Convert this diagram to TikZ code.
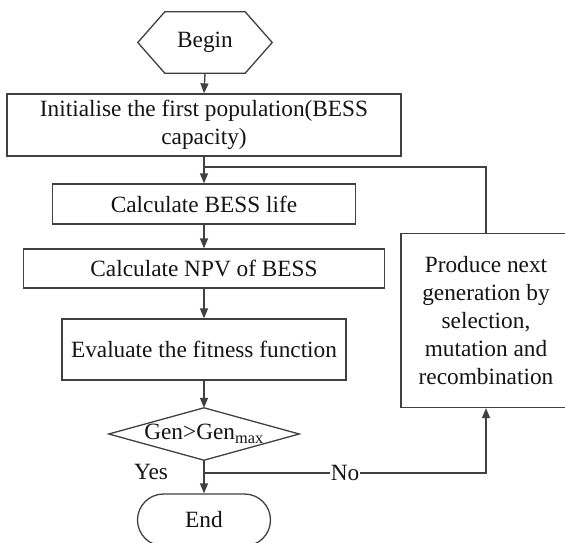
\documentclass[tikz,border=0pt]{standalone}
\usepackage{fontspec}
\setmainfont{Liberation Serif}
\usetikzlibrary{arrows.meta,shapes.misc}
\begin{document}
\begin{tikzpicture}[x=1pt,y=-1pt,
  line/.style={draw=black!75,line width=1.3pt},
  arr/.style={line,-{Triangle[length=10pt,width=8pt]}},
  box/.style={line,rectangle,inner sep=0pt,align=center,font=\fontsize{23.3}{28}\selectfont,text=black!92},
  plain/.style={rectangle,inner sep=0pt,align=center,font=\fontsize{23.3}{28}\selectfont,text=black!92},
  lbl/.style={inner sep=1pt,font=\fontsize{23.3}{28}\selectfont,text=black!92}]
\clip (0,0) rectangle (565,543);
\fill[white] (0,0) rectangle (565,543);
% nodes
\node[plain,minimum width=134pt,minimum height=61pt] (begin) at (205,42.5) {Begin};
\node[box,minimum width=394pt,minimum height=62pt] (init) at (204,125) {Initialise the first population(BESS\\capacity)};
\node[box,minimum width=303pt,minimum height=40pt] (life) at (204,204) {Calculate BESS life};
\node[box,minimum width=361pt,minimum height=39pt] (npv) at (204,268.5) {Calculate NPV of BESS};
\node[box,minimum width=284pt,minimum height=61pt] (eval) at (204,349.5) {Evaluate the fitness function};
\node[plain,minimum width=190pt,minimum height=52pt] (dec) at (204,434) {Gen>Gen\textsubscript{max}};
\node[box,rounded rectangle,minimum width=133pt,minimum height=52pt] (end) at (204,520) {End};
\node[box,minimum width=170pt,minimum height=174pt] (prod) at (486,320.5) {Produce next\\generation by\\selection,\\mutation and\\recombination};
% special outlines
\draw[line] (begin.west) -- ([xshift=27pt]begin.north west) -- ([xshift=-27pt]begin.north east)
  -- (begin.east) -- ([xshift=-27pt]begin.south east) -- ([xshift=27pt]begin.south west) -- cycle;
\draw[line] (dec.west) -- (dec.north) -- (dec.east) -- (dec.south) -- cycle;
% connectors
\coordinate (j1) at (204,167);
\coordinate (j2) at (204,473);
\draw[arr] (begin.south) -- (init.north);
\draw[arr] (init.south) -- (life.north);
\draw[line] (j1) -| (prod.north);
\draw[arr] (life.south) -- (npv.north);
\draw[arr] (npv.south) -- (eval.north);
\draw[arr] (eval.south) -- (dec.north);
\draw[arr] (dec.south) -- (end.north);
\draw[arr] (j2) -| node[pos=0.25,lbl,fill=white] {No} (prod.south);
\node[lbl] (yes) at (151,472) {Yes};
\end{tikzpicture}
\end{document}
